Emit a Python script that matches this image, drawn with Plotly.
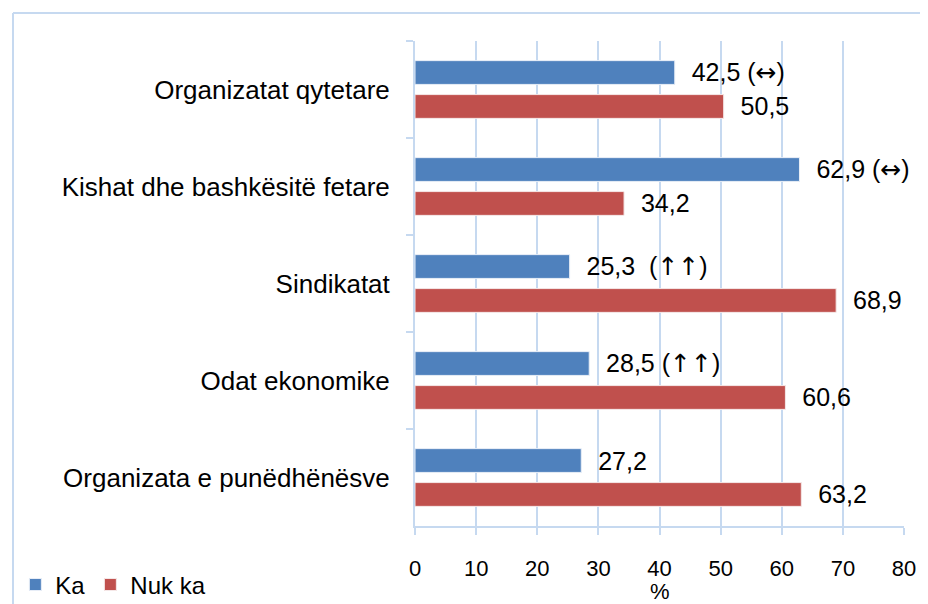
import plotly.graph_objects as go

categories = ["Organizatat qytetare", "Kishat dhe bashkësitë fetare", "Sindikatat",
              "Odat ekonomike", "Organizata e punëdhënësve"]
ka_values = [42.5, 62.9, 25.3, 28.5, 27.2]
ka_labels = ["42,5 (↔)", "62,9 (↔)", "25,3\u00a0 (↑↑)", "28,5 (↑↑)", "27,2"]
nuk_values = [50.5, 34.2, 68.9, 60.6, 63.2]
nuk_labels = ["50,5", "34,2", "68,9", "60,6", "63,2"]
x_ticks = [0, 10, 20, 30, 40, 50, 60, 70, 80]

BLUE = "#4F81BD"
RED = "#C0504D"
GRID = "#C6D9F0"
FONT = "Liberation Sans, Arial, sans-serif"
PAD = "\u00a0\u00a0"

W, H = 920, 596           # page body has an 8px margin
ML, MR, MT, MB = 407, 24, 33, 78
PW, PH = W - ML - MR, H - MT - MB


def fmt(t):
    # arrows drawn with DejaVu Sans (Liberation Sans lacks them)
    for a in ["↔", "↑"]:
        t = t.replace(a, '<span style="font-family:DejaVu Sans">' + a + "</span>")
    return PAD + t


fig = go.Figure()
fig.add_trace(go.Bar(
    y=categories, x=ka_values, orientation="h", name="Ka",
    marker=dict(color=BLUE, line=dict(color="#E8EEF7", width=1)),
    text=[fmt(t) for t in ka_labels], textposition="outside",
    textfont=dict(size=25, color="black", family=FONT),
    cliponaxis=False, constraintext="none", hoverinfo="skip",
))
fig.add_trace(go.Bar(
    y=categories, x=nuk_values, orientation="h", name="Nuk ka",
    marker=dict(color=RED, line=dict(color="#F5E8E8", width=1)),
    text=[fmt(t) for t in nuk_labels], textposition="outside",
    textfont=dict(size=25, color="black", family=FONT),
    cliponaxis=False, constraintext="none", hoverinfo="skip",
))

bx = (5 - ML) / PW
by = (H - MB - 5) / PH

fig.update_layout(
    width=W, height=H,
    margin=dict(l=ML, r=MR, t=MT, b=MB, autoexpand=False),
    paper_bgcolor="white", plot_bgcolor="white",
    font=dict(family=FONT, color="black"),
    barmode="group", bargap=0.3, bargroupgap=0.3,
    showlegend=True,
    legend=dict(orientation="h", xref="container", yref="container",
                x=0.008, y=0.032, xanchor="left", yanchor="middle",
                font=dict(size=24, family=FONT), itemwidth=30,
                traceorder="normal", bgcolor="rgba(0,0,0,0)"),
    xaxis=dict(range=[0, 80], tickvals=x_ticks, ticktext=[str(v) for v in x_ticks],
               showgrid=True, gridcolor=GRID, gridwidth=2,
               showline=True, linecolor=GRID, linewidth=2,
               ticks="outside", ticklen=7, tickcolor=GRID, tickwidth=2,
               tickfont=dict(size=22, family=FONT), ticklabelstandoff=15,
               zeroline=False, automargin=False),
    yaxis=dict(autorange="reversed", type="category",
               showgrid=False, showline=True, linecolor=GRID, linewidth=2,
               ticks="outside", ticklen=7, tickcolor=GRID, tickwidth=2,
               tickson="boundaries", tickfont=dict(size=26, family=FONT),
               ticklabelstandoff=18, automargin=False),
    annotations=[dict(text="%", xref="paper", yref="paper", x=0.5, y=-(591 - 8 - (H - MB)) / PH,
                      xanchor="center", yanchor="middle", showarrow=False,
                      font=dict(size=22, family=FONT))],
    shapes=[
        dict(type="line", xref="paper", yref="paper",
             x0=bx, x1=bx, y0=-1, y1=by, line=dict(color=GRID, width=2)),
        dict(type="line", xref="paper", yref="paper",
             x0=bx, x1=1.2, y0=by, y1=by, line=dict(color=GRID, width=2)),
    ],
)

fig.write_html("out.html")
